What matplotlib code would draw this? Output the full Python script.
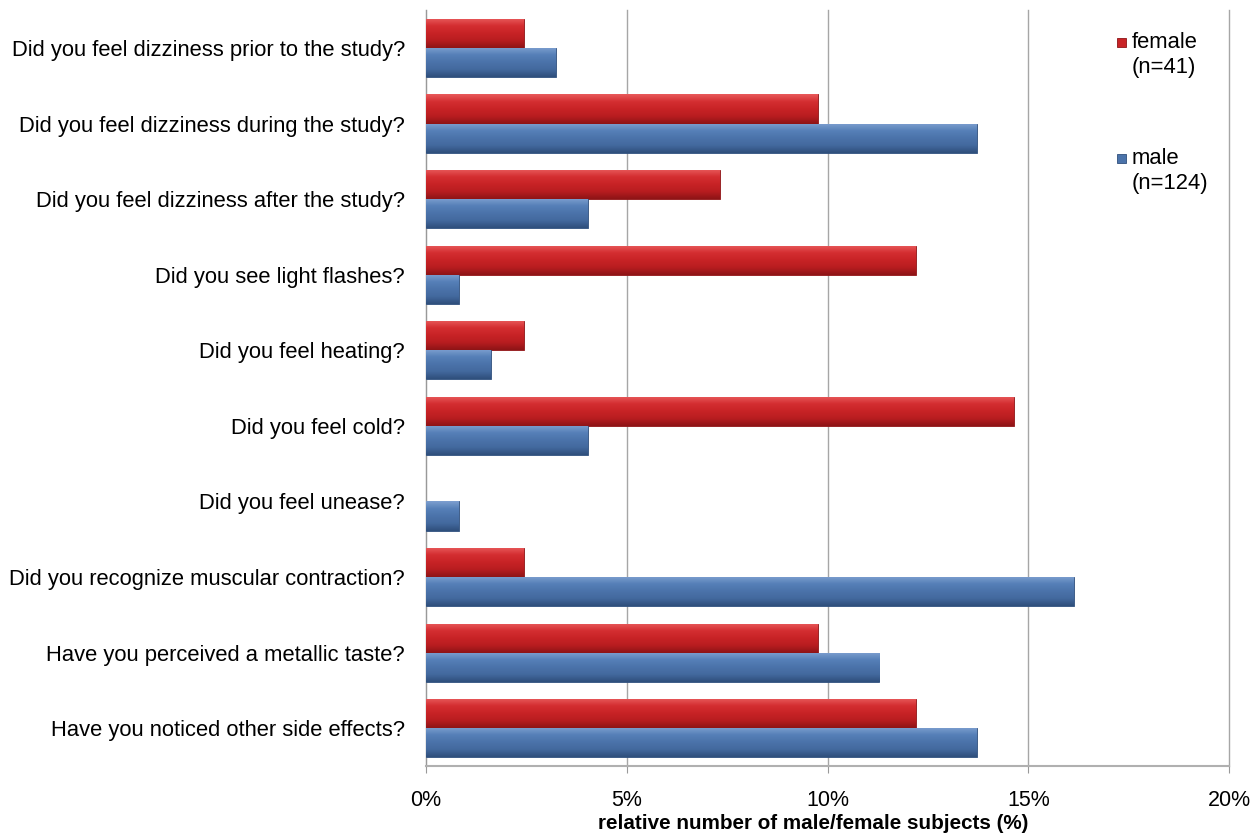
import numpy as np
import matplotlib
matplotlib.use("Agg")
import matplotlib.pyplot as plt
from matplotlib.colors import LinearSegmentedColormap
from matplotlib.patches import Rectangle

plt.rcParams['font.family'] = ['Liberation Sans', 'DejaVu Sans']

questions = [
    "Did you feel dizziness prior to the study?",
    "Did you feel dizziness during the study?",
    "Did you feel dizziness after the study?",
    "Did you see light flashes?",
    "Did you feel heating?",
    "Did you feel cold?",
    "Did you feel unease?",
    "Did you recognize muscular contraction?",
    "Have you perceived a metallic taste?",
    "Have you noticed other side effects?",
]
female = [2.44, 9.76, 7.32, 12.20, 2.44, 14.63, 0.0, 2.44, 9.76, 12.20]
male = [3.23, 13.71, 4.03, 0.81, 1.61, 4.03, 0.81, 16.13, 11.29, 13.71]
xticks = [0, 5, 10, 15, 20]
xticklabels = ["0%", "5%", "10%", "15%", "20%"]
legend_labels = [("female", "(n=41)"), ("male", "(n=124)")]

RED, RED_EDGE = "#c82326", "#8e1416"
BLUE, BLUE_EDGE = "#4b73aa", "#2f4f7c"
red_cmap = LinearSegmentedColormap.from_list(
    "red_bevel", ["#e8595a", "#d42e31", "#c82326", "#b81d20", "#8e1416"])
blue_cmap = LinearSegmentedColormap.from_list(
    "blue_bevel", ["#7d9fcf", "#5680b8", "#4b73aa", "#43699e", "#2f4f7c"])

FS = 15.8
W, H = 1253, 838
fig = plt.figure(figsize=(W / 100, H / 100), dpi=100)
ax = fig.add_axes([0.340, 0.0859, 0.641, 0.902])

y = np.arange(len(questions))
h = 0.385


def shade(bars, cmap):
    grad = np.linspace(0, 1, 64).reshape(-1, 1)
    for b in bars:
        w = b.get_width()
        if w <= 0:
            b.set_linewidth(0)
            continue
        x0, y0 = b.get_x(), b.get_y()
        im = ax.imshow(grad, cmap=cmap, aspect='auto', zorder=3,
                       extent=(x0, x0 + w, y0 + b.get_height(), y0),
                       origin='upper', interpolation='bilinear')
        im.set_clip_path(b)


fb = ax.barh(y - h / 2, female, height=h, color=RED,
             edgecolor=RED_EDGE, linewidth=0.6, zorder=3)
mb = ax.barh(y + h / 2, male, height=h, color=BLUE,
             edgecolor=BLUE_EDGE, linewidth=0.6, zorder=3)
shade(fb, red_cmap)
shade(mb, blue_cmap)

ax.set_ylim(len(questions) - 0.5, -0.5)
ax.set_xlim(0, 20)
ax.set_yticks(y)
ax.set_yticklabels(questions, fontsize=FS)
ax.set_xticks(xticks)
ax.set_xticklabels(xticklabels, fontsize=15.5)
ax.tick_params(axis='y', length=0, pad=15)
ax.tick_params(axis='x', length=5, color="#999999", pad=12)

ax.grid(axis='x', color="#a6a6a6", linewidth=1.0, zorder=0)
for gl in ax.get_xgridlines():
    gl.set_clip_on(False)
ax.set_axisbelow(True)
for s in ['top', 'right']:
    ax.spines[s].set_visible(False)
ax.spines['left'].set_color("#999999")
ax.spines['bottom'].set_color("#b0b0b0")
ax.spines['bottom'].set_linewidth(1.5)

ax.set_xlabel("relative number of male/female subjects (%)",
              fontsize=14.9, fontweight='bold')
ax.xaxis.set_label_coords(0.482, -0.063)

# legend drawn by hand: small square key beside a two-line label
key_cols = [(RED, RED_EDGE), (BLUE, BLUE_EDGE)]
key_tops = [38, 154]
for (fc, ec), (l1, l2), top in zip(key_cols, legend_labels, key_tops):
    fig.add_artist(Rectangle((1117 / W, 1 - (top + 9) / H), 9 / W, 9 / H,
                             transform=fig.transFigure, facecolor=fc,
                             edgecolor=ec, linewidth=0.6))
    fig.text(1132 / W, 1 - (top + 4) / H, l1, fontsize=FS, va='center', ha='left')
    fig.text(1132 / W, 1 - (top + 30) / H, l2, fontsize=FS, va='center', ha='left')

fig.savefig("out.png", dpi=100, facecolor="white")
